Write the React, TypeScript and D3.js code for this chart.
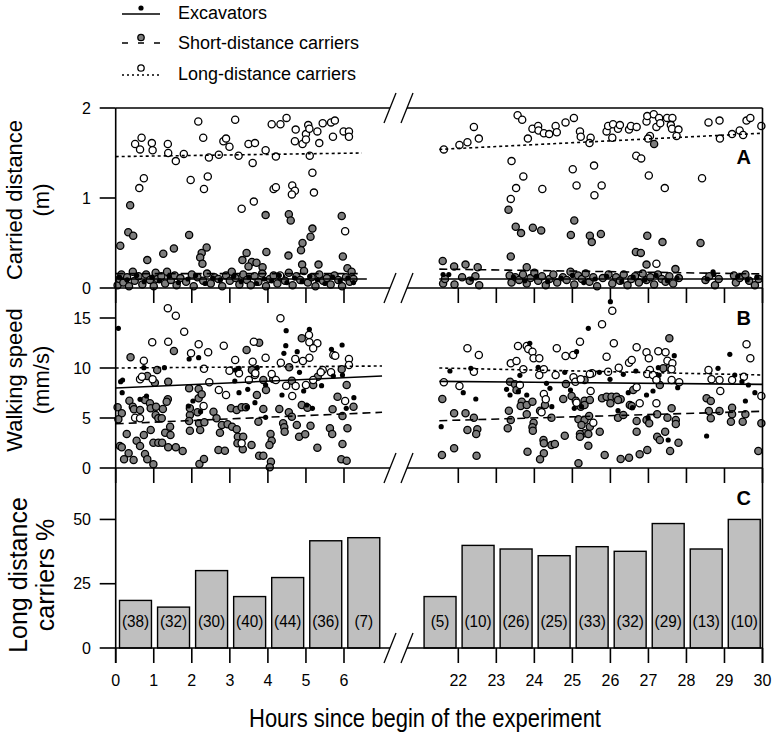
import React from "react";
import * as d3 from "d3";

type P = [number, number];

const leftHours = [0, 1, 2, 3, 4, 5, 6];
const rightHours = [22, 23, 24, 25, 26, 27, 28, 29, 30];
const carriedTicks = [0, 1, 2];
const speedTicks = [0, 5, 10, 15];
const percentTicks = [0, 25, 50];

const barStarts = [0, 1, 2, 3, 4, 5, 6, 21, 22, 23, 24, 25, 26, 27, 28, 29];
const barPercents = [18.5, 15.9, 30.1, 20.0, 27.4, 41.7, 42.9, 20.0, 39.9, 38.5, 35.9, 39.4, 37.6, 48.4, 38.5, 50.0];
const barCounts = [38, 32, 30, 40, 44, 36, 7, 5, 10, 26, 25, 33, 32, 29, 13, 10];

// Panel A: carried distance (m)
const carriedLong: P[] = [
  [2.17,1.85],[3.14,1.87],[0.68,1.67],[0.51,1.60],[0.64,1.54],[0.95,1.61],[0.97,1.53],[1.37,1.60],[1.38,1.50],[1.58,1.41],
  [1.79,1.49],[2.30,1.67],[2.45,1.45],[2.71,1.48],[2.83,1.63],[2.90,1.66],[2.99,1.57],[3.23,1.47],[3.49,1.60],[3.66,1.61],
  [3.60,1.39],[3.94,1.53],[4.10,1.82],[4.33,1.82],[4.49,1.89],[4.21,1.46],[4.73,1.76],[4.71,1.63],[4.91,1.60],[5.00,1.71],
  [5.00,1.65],[5.06,1.81],[5.09,1.77],[5.10,1.47],[5.30,1.74],[5.35,1.61],[5.44,1.83],[5.66,1.84],[5.76,1.86],[5.71,1.68],
  [5.99,1.74],[6.13,1.74],[6.13,1.68],
  [0.74,1.22],[0.62,1.11],[1.97,1.20],[2.42,1.24],[2.32,1.10],[3.31,0.88],[3.63,0.96],[4.15,1.10],[4.21,1.12],[4.64,1.14],
  [4.71,1.08],[4.63,1.04],[5.17,1.28],[5.21,1.06],[6.03,0.63],[4.32,0.14],
  [21.62,1.54],[22.03,1.59],[22.24,1.62],[22.41,1.79],[22.54,1.66],[23.56,1.92],[23.68,1.87],[23.83,1.66],[23.95,1.77],[24.10,1.80],
  [24.11,1.75],[24.25,1.72],[24.39,1.71],[24.56,1.80],[24.59,1.73],[24.82,1.84],[25.04,1.89],[25.20,1.74],[25.22,1.68],[25.48,1.67],
  [25.45,1.61],[25.90,1.74],[25.94,1.80],[26.07,1.82],[26.05,1.67],[26.20,1.77],[26.25,1.81],[26.49,1.76],[26.54,1.80],[26.69,1.79],
  [26.95,1.85],[26.97,1.91],[27.14,1.93],[27.21,1.79],[27.28,1.89],[27.31,1.83],[27.49,1.89],[27.63,1.89],[27.59,1.81],[27.62,1.77],
  [27.79,1.76],[27.74,1.69],[27.04,1.69],[26.99,1.66],[28.58,1.84],[28.87,1.86],[28.88,1.66],[29.20,1.71],[29.40,1.75],[29.49,1.70],
  [29.58,1.86],[29.68,1.89],[29.97,1.80],
  [23.40,1.41],[23.71,1.24],[23.52,1.11],[23.38,0.99],[24.21,1.10],[25.01,1.32],[25.11,1.14],[25.57,1.36],[25.77,1.14],[25.58,1.03],
  [26.68,1.47],[26.81,1.44],[27.01,1.25],[27.43,1.11],[28.41,1.22],[27.21,0.27]
];
const carriedShort: P[] = [
  [0.38,0.92],[0.33,0.62],[0.46,0.58],[0.12,0.47],[0.83,0.31],[1.25,0.38],[1.53,0.44],[1.93,0.59],[2.39,0.45],[2.26,0.39],
  [2.22,0.34],[2.28,0.27],[3.94,0.81],[3.44,0.39],[3.33,0.31],[3.58,0.29],[3.70,0.28],[3.49,0.24],[3.86,0.23],[3.96,0.40],
  [4.55,0.82],[4.60,0.75],[5.17,0.66],[5.12,0.57],[4.91,0.50],[4.87,0.42],[4.54,0.36],[4.90,0.26],[5.33,0.26],[5.94,0.80],
  [5.97,0.35],[6.09,0.22],
  [0.05,0.03],[0.10,0.10],[0.15,0.15],[0.20,0.06],[0.30,0.12],[0.35,0.02],[0.45,0.18],[0.50,0.08],[0.60,0.13],[0.70,0.04],
  [0.80,0.15],[0.90,0.09],[1.00,0.02],[1.05,0.17],[1.10,0.10],[1.20,0.13],[1.30,0.05],[1.35,0.18],[1.45,0.09],[1.55,0.14],
  [1.60,0.03],[1.70,0.11],[1.85,0.07],[2.00,0.15],[2.05,0.02],[2.15,0.12],[2.30,0.08],[2.40,0.16],[2.50,0.05],[2.60,0.12],
  [2.70,0.10],[2.80,0.02],[2.90,0.14],[3.00,0.08],[3.05,0.18],[3.15,0.11],[3.25,0.04],[3.35,0.15],[3.45,0.09],[3.55,0.03],
  [3.65,0.13],[3.75,0.07],[3.85,0.16],[3.95,0.02],[4.05,0.10],[4.15,0.14],[4.25,0.05],[4.35,0.12],[4.45,0.08],[4.55,0.17],
  [4.65,0.03],[4.75,0.13],[4.85,0.09],[4.95,0.19],[5.05,0.06],[5.15,0.12],[5.25,0.02],[5.35,0.15],[5.45,0.08],[5.55,0.11],
  [5.65,0.04],[5.75,0.14],[5.85,0.09],[5.95,0.02],[6.05,0.12],[6.15,0.07],[6.20,0.18],[6.25,0.10],
  [23.32,0.87],[23.51,0.68],[23.65,0.61],[23.96,0.67],[24.18,0.64],[25.05,0.75],[24.96,0.59],[25.46,0.58],[25.51,0.51],[25.75,0.60],
  [27.15,1.60],[26.97,0.58],[27.37,0.51],[28.37,0.50],[26.67,0.40],[26.80,0.39],[23.38,0.35],[26.95,0.26],[21.59,0.30],[21.89,0.24],
  [22.19,0.26],[22.51,0.23],[23.80,0.23],[27.71,0.21],
  [21.60,0.05],[21.65,0.10],[21.90,0.04],[22.10,0.12],[22.30,0.08],[22.45,0.13],[22.55,0.03],[23.35,0.14],[23.40,0.06],[23.50,0.12],
  [23.60,0.09],[23.70,0.15],[23.80,0.05],[23.90,0.11],[24.00,0.17],[24.10,0.08],[24.20,0.13],[24.30,0.03],[24.40,0.10],[24.50,0.15],
  [24.60,0.06],[24.75,0.12],[24.85,0.09],[24.95,0.18],[25.05,0.04],[25.15,0.14],[25.25,0.10],[25.35,0.16],[25.45,0.07],[25.55,0.12],
  [25.65,0.02],[25.80,0.11],[25.95,0.15],[26.05,0.05],[26.15,0.12],[26.25,0.08],[26.35,0.15],[26.45,0.03],[26.55,0.10],[26.65,0.13],
  [26.75,0.06],[26.85,0.16],[26.95,0.09],[27.05,0.12],[27.15,0.04],[27.25,0.15],[27.35,0.10],[27.45,0.07],[27.55,0.13],[27.65,0.05],
  [27.80,0.11],[28.50,0.09],[28.60,0.13],[28.75,0.03],[28.85,0.10],[29.25,0.14],[29.30,0.06],[29.40,0.11],[29.55,0.15],[29.65,0.08],
  [29.80,0.03],[29.90,0.10]
];
const carriedExcavators: P[] = [
  [0.10,0.12],[0.30,0.09],[0.55,0.14],[0.75,0.07],[0.95,0.12],[1.15,0.08],[1.40,0.13],[1.65,0.06],[1.90,0.10],[2.10,0.14],
  [2.35,0.05],[2.55,0.11],[2.75,0.09],[3.10,0.13],[3.30,0.07],[3.50,0.12],[3.70,0.05],[3.90,0.10],[4.10,0.08],[4.30,0.14],
  [4.50,0.06],[4.70,0.11],[4.90,0.07],[5.10,0.13],[5.30,0.09],[5.50,0.05],[5.70,0.12],[5.90,0.08],[6.10,0.11],[6.25,0.06],
  [21.60,0.15],[21.75,0.15],[22.35,0.10],[23.45,0.12],[23.75,0.08],[24.05,0.13],[24.35,0.07],[24.70,0.11],[25.00,0.14],[25.30,0.06],
  [25.60,0.10],[25.90,0.13],[26.30,0.07],[26.60,0.12],[26.90,0.09],[27.20,0.14],[27.50,0.08],[27.75,0.11],[28.55,0.10],[28.70,0.18],
  [28.72,0.15],[29.35,0.13],[29.60,0.09],[29.85,0.12]
];

// Panel B: walking speed (mm/s)
const speedLong: P[] = [
  [1.37,15.97],[1.58,15.23],[1.80,13.63],[0.96,12.57],[1.38,12.63],[2.18,12.37],[1.98,11.47],[2.43,11.57],[2.84,12.23],[3.63,12.63],
  [4.33,14.97],[3.94,11.03],[3.14,10.80],[3.60,10.63],[0.74,10.73],[2.32,9.93],[2.99,9.73],[3.24,9.47],[5.08,13.30],[5.09,12.57],
  [5.30,12.47],[5.19,11.97],[5.09,11.03],[4.72,10.90],[4.92,10.70],[4.34,10.53],[5.72,11.30],[5.77,11.23],[6.13,10.90],[6.13,10.30],
  [5.44,9.80],[5.66,9.57],[5.39,9.57],[0.64,8.87],[0.69,9.13],[0.97,8.87],[2.46,8.57],[3.50,8.80],[3.66,9.30],[4.10,9.40],
  [4.21,8.80],[4.48,8.23],[4.73,8.20],[5.00,8.30],[5.19,8.80],[2.71,7.80],[2.90,7.30],[4.64,7.20],[2.31,6.20],[6.03,6.70],
  [0.51,5.03],[0.64,4.97],[3.31,2.47],[3.67,9.47],
  [26.05,15.73],[25.78,14.37],[25.20,12.63],[26.09,12.47],[22.24,11.97],[22.54,11.30],[23.57,12.20],[23.80,12.20],[23.84,11.90],[23.95,11.63],
  [23.98,10.97],[24.13,10.97],[24.59,11.97],[24.82,11.20],[25.02,11.30],[23.38,10.47],[23.53,10.70],[23.71,9.87],[24.13,9.30],[24.25,9.87],
  [24.56,9.30],[25.03,9.07],[25.08,8.63],[25.22,8.87],[25.52,9.47],[25.46,9.40],[25.94,9.63],[26.22,10.03],[25.90,11.13],[26.49,10.53],
  [26.56,10.80],[26.69,12.07],[26.95,11.57],[27.01,10.97],[27.26,11.67],[27.45,11.57],[27.50,10.73],[27.63,10.47],[27.61,9.87],[27.04,9.80],
  [26.97,9.40],[27.12,9.30],[27.21,8.80],[27.61,8.80],[27.81,8.57],[26.69,8.07],[26.77,6.47],[27.21,6.47],[25.48,7.70],[24.25,7.40],
  [24.30,6.87],[25.11,6.53],[24.19,5.57],[25.55,4.53],[21.62,8.57],[22.03,8.20],[22.41,9.63],[28.58,9.80],[28.66,8.87],[28.87,8.80],
  [28.89,7.70],[29.20,8.80],[29.51,9.13],[29.58,12.37],[29.68,10.97],[29.97,7.20],[23.62,8.30]
];
const speedShort: P[] = [
  [0.39,11.07],[1.53,11.70],[0.05,6.07],[0.16,5.47],[0.07,4.87],[0.36,6.73],[0.45,6.13],[0.48,5.87],[0.64,5.80],[0.77,6.80],
  [0.90,6.47],[0.92,5.97],[0.83,9.20],[1.03,8.53],[1.09,9.80],[1.06,6.13],[1.24,5.90],[1.37,6.87],[1.38,8.63],[1.15,4.97],
  [1.05,5.30],[0.29,3.40],[0.11,2.20],[0.16,2.07],[0.34,1.47],[0.22,0.87],[0.47,0.80],[0.55,2.73],[0.74,3.30],[0.64,2.20],
  [0.77,1.40],[0.83,0.87],[0.99,0.37],[0.92,3.80],[0.99,2.53],[1.12,2.53],[1.22,2.53],[1.30,3.53],[1.38,2.07],[1.43,4.13],
  [1.44,3.30],[1.58,2.07],[1.76,1.70],[1.12,4.97],[1.21,4.97],[1.95,5.30],[1.93,4.70],[1.95,3.73],[2.15,5.57],[2.19,4.47],
  [2.33,4.57],[2.22,3.80],[1.93,7.97],[2.18,7.90],[2.18,6.97],[2.26,7.37],[2.20,0.40],[2.32,0.90],[2.57,5.63],[2.65,4.97],
  [2.79,4.30],[2.74,3.53],[2.94,4.37],[3.03,5.97],[3.18,5.80],[3.31,6.07],[3.42,6.07],[3.06,4.13],[3.18,3.87],[3.21,3.13],
  [3.35,3.13],[3.20,2.47],[3.34,1.87],[3.57,2.30],[2.70,1.80],[2.87,1.73],[3.44,11.80],[3.77,12.53],[3.58,9.80],[3.71,7.30],
  [3.88,5.90],[3.95,7.80],[3.88,8.80],[3.75,4.63],[4.14,8.90],[4.07,3.40],[4.10,2.73],[4.04,2.30],[3.77,1.23],[3.88,1.23],
  [4.08,0.63],[4.05,0.07],[4.30,5.90],[4.40,4.47],[4.43,4.07],[4.44,3.63],[4.55,5.57],[4.56,10.07],[4.63,8.73],[4.63,5.13],
  [4.76,4.30],[4.82,3.13],[4.89,6.30],[4.98,3.37],[4.89,12.97],[5.12,4.23],[5.04,6.03],[5.30,2.03],[5.31,9.13],[5.19,8.30],
  [5.70,5.87],[5.63,3.97],[5.69,3.40],[5.83,7.13],[5.96,5.20],[5.96,2.40],[6.09,3.97],[6.07,8.30],[6.25,6.13],[5.93,0.87],
  [6.07,0.73],[5.94,9.87],[1.34,6.63],[1.95,5.97],
  [27.55,12.97],[21.58,6.90],[21.89,5.47],[22.19,5.47],[22.41,5.03],[22.24,3.80],[22.50,3.87],[22.47,3.40],[21.57,1.30],[21.89,1.97],
  [22.48,1.23],[23.36,8.63],[23.49,8.37],[23.53,7.80],[23.67,6.63],[23.64,6.20],[23.80,6.30],[23.95,6.63],[23.33,5.73],[23.38,4.80],
  [23.30,3.97],[23.80,5.37],[23.98,4.53],[23.95,4.07],[23.96,3.73],[24.15,5.73],[24.24,2.80],[24.25,2.47],[24.45,2.30],[24.54,2.40],
  [23.82,1.63],[24.25,1.47],[24.15,0.87],[24.80,3.23],[25.16,0.47],[24.98,7.20],[25.09,6.73],[25.22,6.13],[25.32,6.73],[25.46,6.80],
  [25.32,6.30],[25.16,4.87],[25.32,4.80],[25.44,5.20],[25.24,4.30],[25.46,4.13],[25.32,3.47],[25.20,3.40],[25.20,3.13],[25.42,3.40],
  [25.42,2.23],[25.72,3.63],[25.85,1.30],[25.78,6.97],[25.90,7.13],[26.03,7.13],[26.16,7.13],[26.27,6.87],[26.00,6.47],[26.20,5.03],
  [26.34,5.30],[26.27,0.90],[26.49,1.03],[26.77,1.37],[26.97,1.80],[26.51,6.30],[26.56,6.20],[26.69,4.70],[26.69,3.63],[26.95,4.80],
  [27.02,4.47],[27.23,5.37],[27.23,3.13],[27.30,2.80],[27.44,3.63],[27.50,5.03],[27.61,5.97],[27.72,4.80],[27.72,4.40],[27.79,2.53],
  [27.57,1.70],[27.55,10.03],[27.39,9.97],[27.21,8.90],[27.30,8.30],[28.53,6.97],[28.64,6.70],[28.59,5.70],[28.64,4.97],[28.87,5.70],
  [29.20,6.03],[29.20,5.37],[29.17,4.63],[29.48,4.63],[29.55,5.37],[29.97,4.47],[29.89,1.70],[26.60,7.80],[26.20,6.80],[24.76,6.90],
  [24.83,8.40],[25.32,8.80],[24.45,5.03],[24.28,6.30]
];
const speedExcavators: P[] = [
  [0.07,13.97],[0.18,8.80],[0.13,8.63],[0.17,7.53],[0.74,10.03],[1.28,10.03],[0.64,6.87],[0.81,7.20],[1.93,10.90],[2.18,11.03],
  [2.03,6.70],[1.91,6.20],[2.23,5.63],[3.13,8.70],[3.24,9.97],[3.24,7.53],[3.47,7.87],[3.72,10.03],[3.66,6.53],[3.94,8.30],
  [3.94,5.07],[4.37,7.30],[4.48,13.73],[4.47,12.23],[4.42,11.47],[4.77,11.63],[4.83,9.57],[4.94,7.70],[5.09,13.87],[5.02,6.30],
  [5.17,5.97],[5.41,8.23],[5.67,11.87],[5.95,12.30],[5.72,9.20],[5.96,9.30],[6.26,7.03],[6.06,5.97],[3.14,9.80],[3.45,6.07],
  [26.00,16.63],[25.42,13.97],[23.88,12.47],[21.78,9.70],[22.33,9.97],[22.13,7.53],[22.46,6.90],[21.55,4.13],[23.27,7.87],[23.36,7.30],
  [23.58,7.63],[23.62,9.27],[23.80,7.30],[24.10,10.07],[24.32,8.47],[24.41,7.97],[24.46,6.13],[24.80,9.57],[25.11,11.63],[24.95,7.80],
  [25.05,5.97],[25.24,6.13],[25.71,9.57],[25.99,8.87],[26.20,5.73],[26.34,9.37],[26.47,7.53],[26.58,6.03],[26.67,9.70],[26.99,5.03],
  [26.95,7.30],[27.12,7.70],[27.26,10.03],[27.28,9.30],[27.68,11.23],[27.52,2.80],[27.77,8.03],[28.53,3.20],[28.83,9.97],[29.14,11.37],
  [29.27,9.30],[29.46,8.63],[29.55,6.70],[29.63,8.30],[29.80,7.53]
];

// Regression lines: [hourStart, valueStart, hourEnd, valueEnd]
const carriedExcTrend = [[0, 0.10, 6.6, 0.10], [21.5, 0.10, 30, 0.10]];
const carriedShortTrend = [[0, 0.16, 6.4, 0.16], [21.5, 0.21, 30, 0.156]];
const carriedLongTrend = [[0, 1.46, 6.47, 1.50], [21.5, 1.54, 30, 1.72]];
const speedExcTrend = [[0, 8.0, 7.0, 9.2], [21.5, 8.66, 30, 8.36]];
const speedShortTrend = [[0, 4.42, 7.0, 5.57], [21.5, 4.73, 30, 5.67]];
const speedLongTrend = [[0, 10.0, 7.0, 10.2], [21.5, 10.0, 30, 9.3]];

const FONT = "'Liberation Sans', Arial, Helvetica, sans-serif";
const GRAY = "#7d7d7d";
const BAR = "#bfbfbf";

const xL = d3.scaleLinear().domain([0, 6]).range([115.7, 344]);
const xR = d3.scaleLinear().domain([22, 30]).range([458.3, 762.5]);
const xh = (h: number) => (h < 15 ? xL(h) : xR(h));

const yA = d3.scaleLinear().domain([0, 2]).range([288, 108]);
const yB = d3.scaleLinear().domain([0, 18]).range([468, 288]);
const yC = d3.scaleLinear().domain([0, 70]).range([648, 468]);

const LEFT_END = 390;
const RIGHT_START = 407;
const AXIS_X = xL(0);
const FRAME_X = xR(30);

function Dots({ data, y, kind }: { data: P[]; y: d3.ScaleLinear<number, number>; kind: string }) {
  return (
    <g>
      {data.map((d, i) =>
        kind === "exc" ? (
          <circle key={i} cx={xh(d[0])} cy={y(d[1])} r={2.6} fill="#000" />
        ) : (
          <circle key={i} cx={xh(d[0])} cy={y(d[1])} r={3.6} fill={kind === "short" ? GRAY : "#fff"} stroke="#000" strokeWidth={1.3} />
        )
      )}
    </g>
  );
}

function Trends({ lines, y, dash }: { lines: number[][]; y: d3.ScaleLinear<number, number>; dash?: string }) {
  return (
    <g>
      {lines.map((l, i) => (
        <line key={i} x1={xh(l[0])} y1={y(l[1])} x2={xh(l[2])} y2={y(l[3])} stroke="#000" strokeWidth={1.6} strokeDasharray={dash} />
      ))}
    </g>
  );
}

function HLine({ y }: { y: number }) {
  return (
    <g stroke="#000" strokeWidth={1.6}>
      <line x1={AXIS_X} x2={LEFT_END} y1={y} y2={y} />
      <line x1={RIGHT_START} x2={FRAME_X} y1={y} y2={y} />
      <line x1={384} y1={y + 15} x2={396} y2={y - 15} strokeWidth={1.3} />
      <line x1={401} y1={y + 15} x2={413} y2={y - 15} strokeWidth={1.3} />
    </g>
  );
}

function YTicks({ ticks, y }: { ticks: number[]; y: d3.ScaleLinear<number, number> }) {
  return (
    <g>
      {ticks.map((t) => (
        <g key={t}>
          <line x1={AXIS_X - 16} x2={AXIS_X} y1={y(t)} y2={y(t)} stroke="#000" strokeWidth={1.6} />
          <text x={91} y={y(t)} dy="0.36em" textAnchor="end" fontSize={16} fontFamily={FONT}>
            {t}
          </text>
        </g>
      ))}
    </g>
  );
}

export default function App() {
  const allHours = [...leftHours, ...rightHours];
  const legendRows = [
    { label: "Excavators", kind: "exc", dash: undefined as string | undefined, ly: 14, my: 8, ty: 19 },
    { label: "Short-distance carriers", kind: "short", dash: "6,10", ly: 43, my: 37.5, ty: 49 },
    { label: "Long-distance carriers", kind: "long", dash: "2,3", ly: 75, my: 68, ty: 80 },
  ];
  return (
    <svg width={777} height={736} style={{ position: "absolute", left: 0, top: 0, background: "#fff" }}>
      <rect width={777} height={736} fill="#fff" />
      {/* Legend */}
      {legendRows.map((r) => (
        <g key={r.label}>
          <line x1={122} x2={160} y1={r.ly} y2={r.ly} stroke="#000" strokeWidth={1.6} strokeDasharray={r.dash} />
          {r.kind === "exc" ? (
            <circle cx={141} cy={r.my} r={2.6} fill="#000" />
          ) : (
            <circle cx={141} cy={r.my} r={3.2} fill={r.kind === "short" ? GRAY : "#fff"} stroke="#000" strokeWidth={1.3} />
          )}
          <text x={178} y={r.ty} fontSize={18} fontFamily={FONT}>
            {r.label}
          </text>
        </g>
      ))}

      {/* Panel C bars */}
      {barStarts.map((h, i) => {
        const x0 = xh(h + 0.1);
        const x1 = xh(h + 0.94);
        return (
          <g key={h}>
            <rect x={x0} y={yC(barPercents[i])} width={x1 - x0} height={yC(0) - yC(barPercents[i])} fill={BAR} stroke="#000" strokeWidth={1.4} />
            <text transform={`translate(${(x0 + x1) / 2},627) scale(0.9,1)`} textAnchor="middle" fontSize={17} fontFamily={FONT}>
              ({barCounts[i]})
            </text>
          </g>
        );
      })}

      {/* Panel A */}
      <Dots data={carriedShort} y={yA} kind="short" />
      <Dots data={carriedLong} y={yA} kind="long" />
      <Dots data={carriedExcavators} y={yA} kind="exc" />
      <Trends lines={carriedLongTrend} y={yA} dash="3,3" />
      <Trends lines={carriedShortTrend} y={yA} dash="8,5" />
      <Trends lines={carriedExcTrend} y={yA} />

      {/* Panel B */}
      <Dots data={speedShort} y={yB} kind="short" />
      <Dots data={speedLong} y={yB} kind="long" />
      <Dots data={speedExcavators} y={yB} kind="exc" />
      <Trends lines={speedLongTrend} y={yB} dash="3,3" />
      <Trends lines={speedShortTrend} y={yB} dash="8,5" />
      <Trends lines={speedExcTrend} y={yB} />

      {/* Frame */}
      <HLine y={108} />
      <HLine y={288} />
      <HLine y={468} />
      <HLine y={648} />
      <line x1={AXIS_X} x2={AXIS_X} y1={108} y2={663} stroke="#000" strokeWidth={1.6} />
      <line x1={FRAME_X} x2={FRAME_X} y1={108} y2={663} stroke="#000" strokeWidth={1.6} />

      {/* X ticks */}
      {allHours.map((h) => (
        <g key={h} stroke="#000" strokeWidth={1.6}>
          <line x1={xh(h)} x2={xh(h)} y1={648} y2={663} />
          <line x1={xh(h)} x2={xh(h)} y1={288} y2={303} />
          <line x1={xh(h)} x2={xh(h)} y1={468} y2={483} />
        </g>
      ))}
      {allHours.map((h) => (
        <text key={"t" + h} x={xh(h)} y={686} textAnchor="middle" fontSize={16} fontFamily={FONT}>
          {h}
        </text>
      ))}

      {/* Y ticks */}
      <YTicks ticks={carriedTicks} y={yA} />
      <YTicks ticks={speedTicks} y={yB} />
      <YTicks ticks={percentTicks} y={yC} />

      {/* Panel letters */}
      <text x={751} y={164} textAnchor="end" fontSize={20} fontWeight="bold" fontFamily={FONT}>A</text>
      <text x={751} y={325} textAnchor="end" fontSize={20} fontWeight="bold" fontFamily={FONT}>B</text>
      <text x={751} y={505} textAnchor="end" fontSize={20} fontWeight="bold" fontFamily={FONT}>C</text>

      {/* Axis titles */}
      <g fontFamily={FONT} textAnchor="middle">
        <text transform="translate(22,200) rotate(-90)" fontSize={22}>Carried distance</text>
        <text transform="translate(49,200) rotate(-90)" fontSize={22}>(m)</text>
        <text transform="translate(22,380) rotate(-90)" fontSize={22}>Walking speed</text>
        <text transform="translate(49,380) rotate(-90)" fontSize={22}>(mm/s)</text>
        <text transform="translate(27,575) rotate(-90)" fontSize={25}>Long distance</text>
        <text transform="translate(54,575) rotate(-90)" fontSize={25}>carriers %</text>
        <text transform="translate(425,727) scale(0.88,1)" fontSize={25}>Hours since begin of the experiment</text>
      </g>
    </svg>
  );
}
